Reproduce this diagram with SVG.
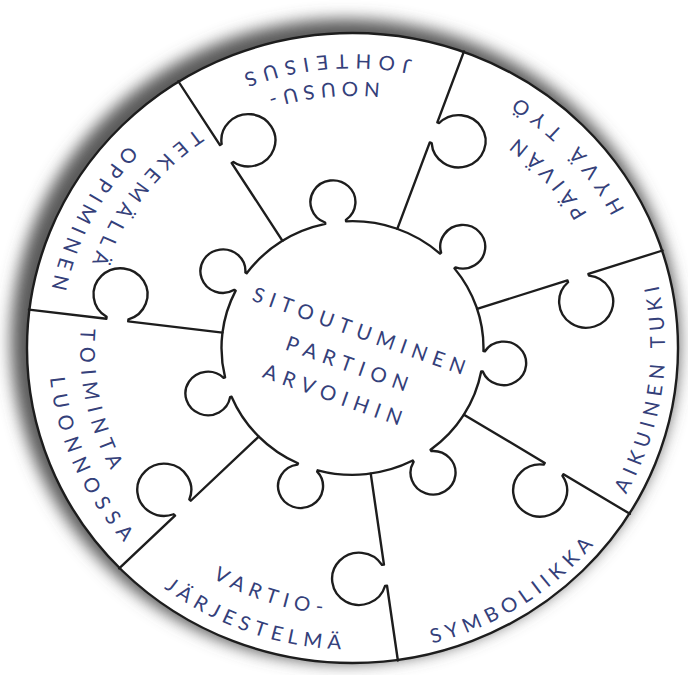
<svg xmlns="http://www.w3.org/2000/svg" xmlns:xlink="http://www.w3.org/1999/xlink" width="688" height="675" viewBox="0 0 688 675">
<style>
.ln{fill:none;stroke:#1d1d1d;stroke-width:2.4;stroke-linejoin:round;stroke-linecap:round}
.lbl{font-family:Lato,"Open Sans","Liberation Sans",sans-serif;font-size:20.5px;fill:#34407a;text-anchor:middle}
</style>
<defs>
<filter id="blur" x="-10%" y="-10%" width="120%" height="120%"><feGaussianBlur stdDeviation="8"/></filter>
<path id="p1" d="M 232.85 -194.66 A 303.5 303.5 0 0 0 -262.59 -152.21"/>
<path id="p2" d="M 207.24 -180.79 A 275 275 0 0 0 -240.76 -132.91"/>
<path id="p3" d="M 265.14 62.92 A 272.5 272.5 0 0 0 -31.56 -270.67"/>
<path id="p4" d="M 300.27 66.30 A 307.5 307.5 0 0 0 -40.41 -304.82"/>
<path id="p5" d="M 139.44 279.66 A 312.5 312.5 0 0 0 215.13 -226.69"/>
<path id="p6" d="M -122.00 290.95 A 315.5 315.5 0 0 0 315.12 15.14"/>
<path id="p7" d="M -264.49 78.85 A 276 276 0 0 0 164.55 221.57"/>
<path id="p8" d="M -300.47 82.20 A 311.5 311.5 0 0 0 180.02 254.22"/>
<path id="p9" d="M -198.22 -186.99 A 272.5 272.5 0 0 0 -107.99 250.18"/>
<path id="p10" d="M -259.34 -158.63 A 304 304 0 0 0 -60.34 297.95"/>
<path id="p11" d="M 9.84 -274.83 A 275 275 0 0 0 -261.61 84.76"/>
<path id="p12" d="M -41.14 -304.24 A 307 307 0 0 0 -271.82 142.69"/>
</defs>
<rect width="688" height="675" fill="#ffffff"/>
<g id="disk">
<ellipse cx="345" cy="341" rx="334" ry="322" fill="#5a5a5a" filter="url(#blur)"/>
<ellipse cx="352.5" cy="348" rx="325.5" ry="315" fill="#ffffff" stroke="#1d1d1d" stroke-width="2.4"/>
</g>
<g transform="translate(352.5 348) scale(1 0.968)">
<g id="connectors">
<path class="ln" d="M -70.01 -110.73 L -120.77 -191.04 L -119.08 -192.11 A 27 27 0 1 0 -130.84 -210.70 L -132.53 -209.63 L -174.21 -275.57"/>
<path class="ln" d="M 44.80 -123.10 L 77.29 -212.37 L 79.17 -211.69 A 27 27 0 1 0 86.70 -232.37 L 84.82 -233.05 L 111.49 -306.34"/>
<path class="ln" d="M 124.59 -40.48 L 214.95 -69.83 L 215.57 -67.93 A 27 27 0 1 0 236.49 -74.73 L 235.87 -76.63 L 310.06 -100.73"/>
<path class="ln" d="M 111.45 68.84 L 192.28 118.76 L 191.23 120.46 A 27 27 0 1 0 209.95 132.02 L 211.00 130.32 L 277.36 171.31"/>
<path class="ln" d="M 18.24 129.73 L 31.46 223.81 L 29.48 224.09 A 27 27 0 1 0 32.54 245.87 L 34.52 245.59 L 45.38 322.84"/>
<path class="ln" d="M -93.76 91.49 L -161.75 157.84 L -163.15 156.41 A 27 27 0 1 0 -178.89 171.77 L -177.49 173.20 L -233.32 227.68"/>
<path class="ln" d="M -130.02 -15.97 L -224.31 -27.55 L -224.06 -29.54 A 27 27 0 1 0 -245.90 -32.22 L -246.14 -30.23 L -323.56 -39.74"/>
</g>
<g id="center-piece">
<path class="ln" d="M -116.82 -59.28 L -118.10 -60.06 A 22.5 22.5 0 1 1 -107.12 -77.96 L -105.84 -77.18 A 131 131 0 0 1 -27.23 -128.15 L -27.42 -129.63 A 22.5 22.5 0 1 1 -6.60 -132.33 L -6.41 -130.85 A 131 131 0 0 1 87.49 -97.51 L 88.58 -98.54 A 22.5 22.5 0 1 1 103.04 -83.30 L 101.95 -82.27 A 131 131 0 0 1 130.96 3.21 L 132.45 3.36 A 22.5 22.5 0 1 1 130.25 24.24 L 128.76 24.09 A 131 131 0 0 1 78.09 105.17 L 78.89 106.44 A 22.5 22.5 0 1 1 61.09 117.56 L 60.29 116.29 A 131 131 0 0 1 -34.79 126.30 L -35.30 127.71 A 22.5 22.5 0 1 1 -55.04 120.53 L -54.53 119.12 A 131 131 0 0 1 -120.95 50.34 L -122.38 50.80 A 22.5 22.5 0 1 1 -128.87 30.82 L -127.44 30.36 A 131 131 0 0 1 -116.82 -59.28 Z"/>
</g>
<g id="nousujohteisuus">
<text class="lbl"><textPath href="#p1" xlink:href="#p1" startOffset="50%" textLength="172" lengthAdjust="spacing">JOHTEISUS</textPath></text>
<text class="lbl"><textPath href="#p2" xlink:href="#p2" startOffset="50%" textLength="114" lengthAdjust="spacing">NOUSU-</textPath></text>
</g>
<g id="paivan-hyva-tyo">
<text class="lbl"><textPath href="#p3" xlink:href="#p3" startOffset="50%" textLength="106" lengthAdjust="spacing">PÄIVÄN</textPath></text>
<text class="lbl"><textPath href="#p4" xlink:href="#p4" startOffset="50%" textLength="159" lengthAdjust="spacing">HYVÄ TYÖ</textPath></text>
</g>
<g id="aikuinen-tuki">
<text class="lbl"><textPath href="#p5" xlink:href="#p5" startOffset="50%" textLength="223" lengthAdjust="spacing">AIKUINEN TUKI</textPath></text>
</g>
<g id="symboliikka">
<text class="lbl"><textPath href="#p6" xlink:href="#p6" startOffset="50%" textLength="194" lengthAdjust="spacing">SYMBOLIIKKA</textPath></text>
</g>
<g id="vartiojarjestelma">
<text class="lbl"><textPath href="#p7" xlink:href="#p7" startOffset="50%" textLength="117" lengthAdjust="spacing">VARTIO-</textPath></text>
<text class="lbl"><textPath href="#p8" xlink:href="#p8" startOffset="50%" textLength="191" lengthAdjust="spacing">JÄRJESTELMÄ</textPath></text>
</g>
<g id="toiminta-luonnossa">
<text class="lbl"><textPath href="#p9" xlink:href="#p9" startOffset="50%" textLength="151" lengthAdjust="spacing">TOIMINTA</textPath></text>
<text class="lbl"><textPath href="#p10" xlink:href="#p10" startOffset="50%" textLength="188" lengthAdjust="spacing">LUONNOSSA</textPath></text>
</g>
<g id="tekemalla-oppiminen">
<text class="lbl"><textPath href="#p11" xlink:href="#p11" startOffset="50%" textLength="176" lengthAdjust="spacing">TEKEMÄLLÄ</textPath></text>
<text class="lbl"><textPath href="#p12" xlink:href="#p12" startOffset="50%" textLength="169" lengthAdjust="spacing">OPPIMINEN</textPath></text>
</g>
</g>
<g id="center-text" transform="translate(359 331) rotate(19.5)">
<text class="lbl" x="0" y="7" textLength="224" lengthAdjust="spacing">SITOUTUMINEN</text>
<text class="lbl" x="-0.3" y="42" textLength="128" lengthAdjust="spacing">PARTION</text>
<text class="lbl" x="-3.6" y="76" textLength="146" lengthAdjust="spacing">ARVOIHIN</text>
</g>
</svg>
